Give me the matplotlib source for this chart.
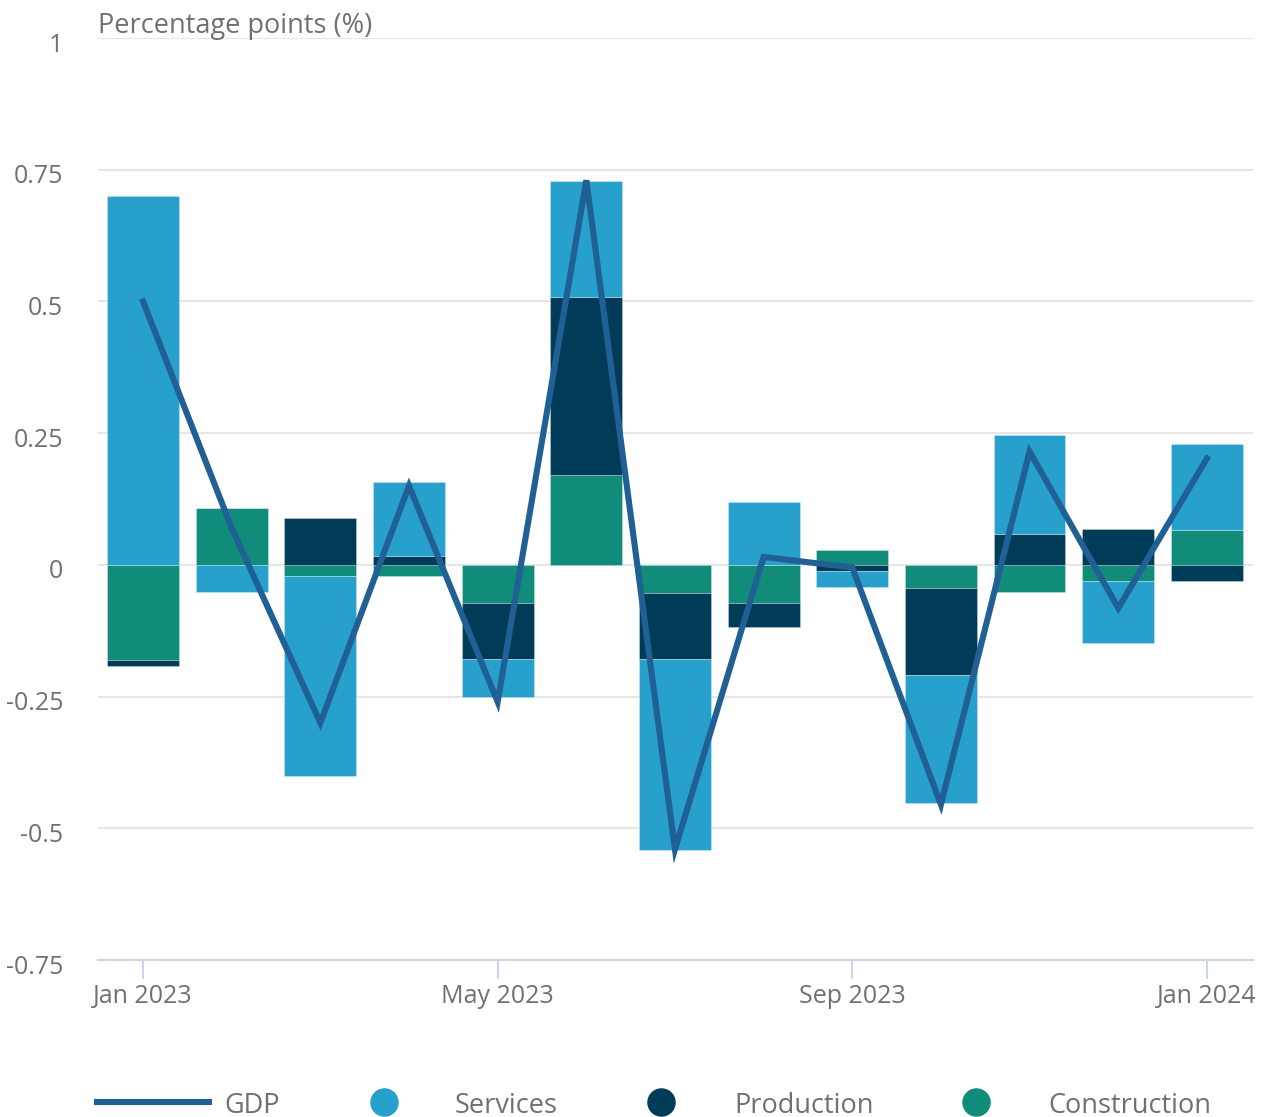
import matplotlib
matplotlib.use("Agg")
import matplotlib.pyplot as plt
from matplotlib.lines import Line2D
from matplotlib.transforms import ScaledTranslation
import numpy as np

plt.rcParams['font.family'] = ['Open Sans', 'DejaVu Sans']

months = ["Jan 2023", "Feb 2023", "Mar 2023", "Apr 2023", "May 2023", "Jun 2023",
          "Jul 2023", "Aug 2023", "Sep 2023", "Oct 2023", "Nov 2023", "Dec 2023", "Jan 2024"]
services = [0.700, -0.051, -0.379, 0.141, -0.072, 0.221, -0.363, 0.120, -0.030, -0.242, 0.188, -0.118, 0.163]
production = [-0.011, 0.000, 0.089, 0.017, -0.107, 0.337, -0.126, -0.046, -0.012, -0.166, 0.059, 0.068, -0.030]
construction = [-0.181, 0.107, -0.021, -0.021, -0.072, 0.171, -0.053, -0.072, 0.029, -0.044, -0.051, -0.031, 0.067]
gdp = [0.50, 0.07, -0.30, 0.15, -0.26, 0.73, -0.54, 0.015, -0.005, -0.455, 0.215, -0.082, 0.202]

tick_idx = [0, 4, 8, 12]
yticks = [-0.75, -0.5, -0.25, 0, 0.25, 0.5, 0.75, 1]
ytick_labels = ["-0.75", "-0.5", "-0.25", "0", "0.25", "0.5", "0.75", "1"]

c_serv = "#27a0cc"
c_prod = "#003c57"
c_cons = "#118c7b"
c_gdp = "#206095"
c_text = "#707070"

W, H = 1267, 1117
fig = plt.figure(figsize=(W / 100, H / 100), dpi=100)
ax = fig.add_axes([98 / W, 1 - 960 / H, (1253 - 98) / W, (960 - 38) / H])

x = np.arange(len(months))
pos_base = np.zeros(len(months))
neg_base = np.zeros(len(months))
bw = 0.81
# stack outward from zero: construction, production, services
for vals, col in [(construction, c_cons), (production, c_prod), (services, c_serv)]:
    v = np.array(vals)
    base = np.where(v >= 0, pos_base, neg_base)
    ax.bar(x, v, bottom=base, width=bw, color=col, edgecolor=(1, 1, 1, 0.5), linewidth=0.4, zorder=3)
    pos_base = pos_base + np.where(v > 0, v, 0)
    neg_base = neg_base + np.where(v < 0, v, 0)

ax.plot(x, gdp, color=c_gdp, linewidth=4.4, zorder=4, solid_joinstyle="miter")

ax.set_xlim(-0.508, 12.52)
ax.set_ylim(-0.75, 1.0)
ax.set_yticks(yticks)
ax.set_yticklabels(ytick_labels)
ax.set_xticks(tick_idx)
ax.set_xticklabels([months[i] for i in tick_idx])

for s in ["top", "right", "left"]:
    ax.spines[s].set_visible(False)
ax.spines["bottom"].set_color("#ccd6eb")
ax.spines["bottom"].set_linewidth(1.5)
ax.spines["bottom"].set_zorder(5)

ax.yaxis.grid(True, color="#e6e6e6", linewidth=1.5, zorder=0)
ax.set_axisbelow(True)
ax.tick_params(axis="y", length=0, pad=25, labelsize=18, labelcolor=c_text)
ax.tick_params(axis="x", length=14, width=1.5, color="#ccd6eb", pad=3, labelsize=18, labelcolor=c_text)
shift = ScaledTranslation(0, -4 / 100, fig.dpi_scale_trans)
for lbl in ax.get_yticklabels():
    lbl.set_transform(lbl.get_transform() + shift)

fig.text(98 / W, 1 - 33 / H, "Percentage points (%)", fontsize=19.5, color=c_text,
         ha="left", va="baseline")

# legend
ly = 1 - 1102 / H
fig.add_artist(Line2D([94 / W, 212 / W], [ly, ly], color=c_gdp, linewidth=4.4,
                      transform=fig.transFigure, solid_capstyle="butt"))
fig.text(224 / W, 1 - 1113 / H, "GDP", fontsize=19.5, color=c_text, ha="left", va="baseline")
for cx, tx, col, name in [(384, 455, c_serv, "Services"), (661, 734, c_prod, "Production"),
                          (976, 1048, c_cons, "Construction")]:
    fig.add_artist(Line2D([cx / W], [ly], marker="o", markersize=19.5, color=col,
                          linestyle="none", transform=fig.transFigure))
    fig.text(tx / W, 1 - 1113 / H, name, fontsize=19.5, color=c_text, ha="left", va="baseline")

fig.savefig("out.png", dpi=100, facecolor="white")
